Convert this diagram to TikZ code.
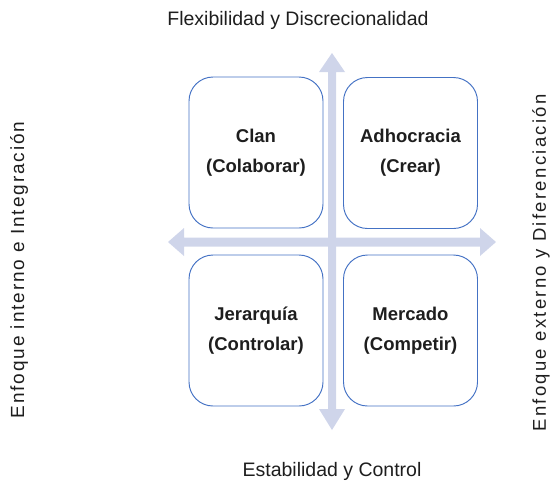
\documentclass[tikz,border=0pt]{standalone}
\usepackage{fontspec}
\setmainfont{Liberation Sans}
\newfontfamily\spacedfont{Liberation Sans}[LetterSpace=10]
\newfontfamily\widerfont{Liberation Sans}[LetterSpace=12.5]
\definecolor{boxblue}{HTML}{4472C4}
\definecolor{axisfill}{HTML}{CFD5EA}
\definecolor{ink}{HTML}{1E1E1E}
\begin{document}
\begin{tikzpicture}[x=1pt,y=-1pt,
  quadrant/.style={draw=boxblue, line width=0.95pt, rounded corners=24pt,
    minimum width=134pt, minimum height=151pt, align=center, text=ink,
    font=\fontsize{18.5}{30}\selectfont\bfseries},
  axislabel/.style={text=ink, font=\fontsize{19.5}{22}\selectfont, anchor=base},
  sidelabel/.style={text=ink, rotate=90, inner sep=0pt}]
\useasboundingbox (0,0) rectangle (551,483);

% horizontal axis with heads at both ends
\fill[axisfill] (168,242) -- (184,228) -- (184,237.5) -- (480,237.5) -- (480,228)
  -- (496,242) -- (480,256) -- (480,246.5) -- (184,246.5) -- (184,256) -- cycle;
% vertical axis with heads at both ends
\fill[axisfill] (332,53) -- (345,72) -- (336,72) -- (336,409) -- (345,409)
  -- (332,430) -- (319,409) -- (328,409) -- (328,72) -- (319,72) -- cycle;

% the four quadrants
\node[quadrant] (clan) at (256,152.5) {Clan\\(Colaborar)};
\node[quadrant] (adhoc) at (410.5,153) {Adhocracia\\(Crear)};
\node[quadrant] (jerarq) at (256,330.5) {Jerarquía\\(Controlar)};
\node[quadrant] (mercado) at (410.5,330.5) {Mercado\\(Competir)};

% axis captions
\node[axislabel] (top) at (298,25) {Flexibilidad y Discrecionalidad};
\node[axislabel] (bottom) at (332,476) {Estabilidad y Control};
\node[sidelabel, font=\fontsize{19}{22}\spacedfont] (left) at (19,270)
  {Enfoque interno e Integración};
\node[sidelabel, font=\fontsize{18.5}{22}\widerfont] (right) at (541,263)
  {Enfoque externo y Diferenciación};
\end{tikzpicture}
\end{document}
